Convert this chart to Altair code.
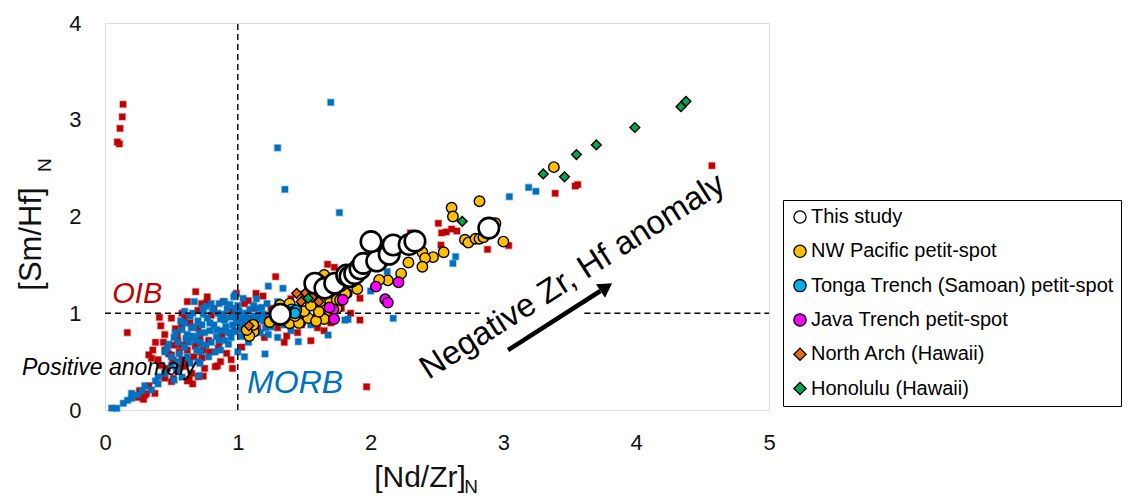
import altair as alt
import pandas as pd

# ---------------- data ----------------
study_x = [1.32, 1.58, 1.656, 1.73, 1.82, 1.845, 1.88, 1.92, 1.945, 2.046, 2.003, 2.14, 2.17, 2.29, 2.334, 2.89]
study_y = [0.99, 1.31, 1.26, 1.31, 1.395, 1.38, 1.41, 1.46, 1.515, 1.54, 1.74, 1.61, 1.705, 1.71, 1.745, 1.88]

nwp_x = [3.38, 2.82, 2.61, 2.62, 2.71, 2.736, 2.79, 2.82, 2.85, 2.94, 3.0, 2.55, 2.39, 2.47, 2.41, 2.39,
         2.285, 2.23, 2.13, 2.065, 1.65, 1.82, 1.69, 1.76, 1.62, 1.39, 1.47, 1.53, 1.61, 1.65, 1.745,
         1.12, 1.087, 1.067, 1.117, 1.318, 1.39, 1.46, 1.59, 1.61, 1.69, 1.66, 1.745, 1.81, 1.24,
         1.5, 1.55, 1.43, 1.78, 1.9, 1.85, 1.7, 1.77]
nwp_y = [2.51, 2.157, 2.09, 2.0, 1.76, 1.73, 1.77, 1.77, 1.785, 1.93, 1.74, 1.63, 1.63, 1.58, 1.57, 1.48,
         1.525, 1.41, 1.34, 1.345, 1.395, 1.205, 1.14, 1.19, 1.12, 0.896, 0.906, 0.95, 0.99, 0.94, 1.05,
         0.81, 0.765, 0.827, 0.88, 1.085, 1.10, 0.90, 0.92, 1.016, 1.03, 1.205, 1.14, 1.205, 0.91,
         1.02, 1.08, 0.97, 1.28, 1.25, 1.32, 1.3, 1.137]

tonga_x = [1.405, 1.42, 1.44, 1.43]
tonga_y = [1.04, 1.016, 1.03, 1.0]

java_x = [2.04, 2.21, 2.11, 2.13, 1.79, 1.72, 1.725, 1.69]
java_y = [1.275, 1.32, 1.145, 1.11, 1.14, 1.04, 0.94, 1.06]

narch_x = [1.084, 1.51, 1.476, 1.56, 1.61, 1.443]
narch_y = [0.87, 1.21, 1.12, 1.165, 1.12, 1.206]

hono_x = [4.375, 4.337, 3.99, 3.70, 3.55, 3.30, 3.46, 2.69, 1.53]
hono_y = [3.19, 3.135, 2.92, 2.74, 2.64, 2.44, 2.41, 1.95, 1.155]

# OIB compilation (red squares), (x, y) pairs
oib_pts = [
    (0.093, 2.77), (0.108, 2.75), (0.113, 2.91), (0.13, 3.03), (0.136, 3.16),
    (0.168, 0.80), (0.41, 0.958), (0.683, 1.223), (0.728, 1.10), (0.766, 1.113), (0.89, 1.12), (0.99, 1.206),
    (1.137, 1.206), (1.19, 1.178), (1.285, 1.378), (1.676, 1.506), (1.727, 1.475), (1.92, 1.155), (1.92, 0.93),
    (1.55, 0.716), (1.368, 0.765), (1.97, 0.24), (0.578, 0.886), (0.547, 0.723), (0.452, 0.62), (0.52, 0.67),
    (0.62, 0.62), (0.715, 0.758), (0.83, 0.448), (0.703, 0.344), (0.62, 0.30), (0.50, 0.293), (0.313, 0.17),
    (0.29, 0.11), (0.376, 0.172), (0.627, 0.517), (0.565, 0.448), (0.74, 0.62), (0.853, 0.638), (0.916, 0.586),
    (0.545, 0.79), (0.653, 0.758), (0.615, 0.706), (0.51, 0.517), (0.653, 0.379), (0.35, 0.534), (0.5, 0.568),
    (0.846, 0.455), (0.635, 0.317), (0.514, 0.327), (0.6, 0.95), (0.7, 0.85), (0.8, 0.98), (0.95, 1.02),
    (1.05, 1.1), (1.1, 0.95), (1.25, 1.05), (1.4, 1.15), (1.5, 1.2), (1.6, 0.85), (0.45, 0.78), (0.38, 0.7),
    (0.42, 0.46), (0.25, 0.13), (0.58, 0.52), (0.68, 0.66), (0.78, 0.72), (0.88, 0.78), (0.47, 0.43),
    (0.56, 0.6), (1.3, 0.85), (1.45, 0.8), (1.2, 0.75), (1.7, 0.9), (1.85, 1.0), (2.3, 1.83), (2.51, 1.93),
    (2.535, 1.83), (2.57, 1.84), (2.61, 1.87), (2.65, 1.85), (2.53, 1.705), (2.88, 1.66), (3.04, 1.70),
    (3.39, 2.24), (3.54, 2.315), (3.56, 2.33), (4.57, 2.525), (0.33, 0.57), (0.3, 0.155), (0.73, 0.54),
    (0.95, 0.52), (0.36, 0.62), (0.4, 0.52), (0.44, 0.7), (0.48, 0.58), (0.53, 0.84), (0.57, 0.67),
    (0.6, 0.45), (0.64, 0.9), (0.67, 0.55), (0.71, 0.69), (0.75, 0.43), (0.79, 0.6), (0.82, 1.05),
    (0.86, 0.7), (0.7, 1.03), (0.58, 1.0), (0.9, 0.95), (0.98, 0.82), (1.03, 0.65), (1.08, 1.13),
    (1.15, 0.85), (1.22, 0.98), (1.35, 0.7), (1.42, 1.0), (1.48, 0.88), (1.58, 1.1), (1.65, 0.82),
    (1.78, 1.05), (0.26, 0.2), (0.33, 0.25), (0.45, 0.33), (0.55, 0.4), (0.66, 0.27), (0.74, 0.35),
    (0.87, 0.5), (0.96, 0.43), (0.42, 0.87), (0.5, 0.95), (0.62, 1.12), (0.77, 1.17), (1.0, 1.02), (1.12, 1.05),
]

# MORB compilation (blue squares), (x, y) pairs
morb_pts = [
    (0.05, 0.02), (0.088, 0.018), (0.138, 0.069), (0.17, 0.1), (0.2, 0.12), (0.2, 0.172), (0.243, 0.155),
    (0.28, 0.2), (0.3, 0.25), (0.35, 0.207), (0.38, 0.3), (0.4, 0.27), (0.45, 0.38), (0.52, 0.31),
    (0.54, 0.413), (0.58, 0.34), (0.64, 0.483), (0.708, 0.355), (0.715, 0.483),
    (0.45, 0.6), (0.5, 0.55), (0.55, 0.7), (0.6, 0.65), (0.62, 0.78), (0.65, 0.85), (0.68, 0.72), (0.7, 0.92),
    (0.72, 0.6), (0.75, 0.8), (0.77, 0.95), (0.8, 0.7), (0.82, 0.88), (0.85, 1.0), (0.87, 0.62), (0.88, 0.82),
    (0.9, 0.93), (0.92, 1.05), (0.95, 0.75), (0.96, 0.88), (0.98, 0.97), (1.0, 1.08), (1.02, 0.83),
    (1.04, 0.92), (1.06, 1.0), (1.08, 0.7), (1.1, 0.88), (1.12, 0.97), (1.15, 1.05), (1.17, 0.8), (1.2, 0.92),
    (1.22, 1.1), (1.25, 0.86), (1.28, 0.98), (1.3, 0.75), (1.33, 1.02), (1.36, 0.9), (1.4, 0.82), (1.45, 1.06),
    (1.5, 0.95), (1.55, 0.88), (1.6, 1.02), (1.65, 0.96), (1.72, 1.08), (0.673, 1.12), (0.979, 1.19),
    (1.23, 1.28), (1.34, 1.258), (0.6, 0.9), (0.58, 0.83), (0.52, 0.75), (0.48, 0.68), (0.66, 1.0),
    (0.74, 1.05), (0.8, 1.1), (0.84, 0.76), (0.93, 0.68), (1.0, 0.6), (1.05, 0.55), (0.78, 0.55), (0.7, 0.5),
    (0.62, 0.55), (0.9, 1.12), (1.14, 1.15), (1.3, 1.12), (1.456, 0.706), (1.205, 0.579), (1.68, 0.775),
    (1.83, 0.937), (2.17, 0.948), (1.807, 0.93), (0.54, 0.413), (0.452, 0.379), (0.4, 0.344),
    (0.47, 0.64), (0.53, 0.8), (0.57, 0.92), (0.61, 0.74), (0.64, 0.97), (0.67, 0.86), (0.71, 0.79),
    (0.74, 0.99), (0.76, 0.67), (0.79, 0.9), (0.81, 1.04), (0.84, 0.83), (0.86, 0.72), (0.89, 0.99),
    (0.91, 0.86), (0.94, 1.09), (0.97, 0.81), (0.99, 0.93), (1.01, 1.02), (1.03, 0.76), (1.07, 0.95),
    (1.09, 1.04), (1.11, 0.82), (1.13, 0.9), (1.16, 0.98), (1.18, 1.06), (1.21, 0.85), (1.24, 0.95),
    (1.27, 0.9), (1.29, 1.05), (1.32, 0.96), (1.35, 0.88), (1.38, 1.03), (1.42, 0.95), (1.47, 0.9),
    (1.52, 1.0), (0.56, 0.58), (0.63, 0.7), (0.69, 0.62), (0.73, 0.88), (0.83, 0.6), (0.87, 0.94),
    (0.93, 0.8), (0.98, 1.05), (1.04, 0.87), (1.09, 0.78), (1.19, 0.99), (1.26, 1.0), (0.6, 1.02),
    (0.66, 0.76), (0.76, 1.07), (0.86, 1.1), (0.95, 0.96), (1.03, 0.98), (1.15, 0.93), (0.5, 0.46),
    (0.55, 0.5), (0.72, 0.7), (0.79, 0.82), (0.9, 0.72), (1.0, 0.9), (1.12, 1.08), (1.23, 0.78),
    (1.35, 0.96), (1.48, 0.98), (1.58, 0.92),
    (1.7, 3.18), (1.3, 2.71), (1.355, 2.28), (1.765, 2.04), (3.045, 2.205), (3.19, 2.30), (3.245, 2.26),
    (2.64, 1.585), (2.62, 1.515), (2.09, 1.73), (2.125, 1.43), (2.0, 1.23), (2.36, 1.72), (0.97, 1.17),
    (1.04, 1.153),
]

series_names = ["This study", "NW Pacific petit-spot", "Tonga Trench (Samoan) petit-spot",
                "Java Trench petit-spot", "North Arch (Hawaii)", "Honolulu (Hawaii)"]
series_fill = ["#FFFFFF", "#FFC000", "#00B0F0", "#FF00FF", "#E46C0A", "#00A650"]
series_shape = ["circle", "circle", "circle", "circle", "diamond", "diamond"]

x_ticks = [0, 1, 2, 3, 4, 5]
y_ticks = [0, 1, 2, 3, 4]

# ---------------- frames ----------------
def frame(xs, ys, name, sz=0, sw=0):
    return pd.DataFrame({"x": xs, "y": ys, "series": name, "sz": sz, "sw": sw})

oib_x, oib_y = zip(*oib_pts)
morb_x, morb_y = zip(*morb_pts)
bg = pd.concat([frame(list(oib_x), list(oib_y), "OIB"), frame(list(morb_x), list(morb_y), "MORB")],
               ignore_index=True)

fg = pd.concat([
    frame(nwp_x, nwp_y, series_names[1], 110, 1.4),
    frame(tonga_x, tonga_y, series_names[2], 110, 1.4),
    frame(java_x, java_y, series_names[3], 110, 1.4),
    frame(narch_x, narch_y, series_names[4], 95, 1.4),
    frame(hono_x, hono_y, series_names[5], 95, 1.4),
    frame(study_x, study_y, series_names[0], 420, 2.6),
], ignore_index=True)

FONT = "Liberation Sans"
xs = alt.Scale(domain=[0, 5], nice=False, zero=False)
ys = alt.Scale(domain=[0, 4], nice=False, zero=False)

X = alt.X("x:Q", scale=xs, axis=alt.Axis(values=x_ticks, title=None, grid=False, ticks=False, domain=False,
                                         labelFontSize=22, labelFont=FONT, labelColor="#111",
                                         labelPadding=22, format="d", labelFlush=False))
Y = alt.Y("y:Q", scale=ys, axis=alt.Axis(values=y_ticks, title=None, grid=False, ticks=False, domain=False,
                                         labelFontSize=22, labelFont=FONT, labelColor="#111",
                                         labelPadding=24, format="d", labelFlush=False))

bg_scale = alt.Scale(domain=["OIB", "MORB"], range=["#C00000", "#0070C0"])
bg_chart = alt.Chart(bg).mark_point(shape="square", filled=True, size=38, strokeWidth=1.6,
                                    strokeOpacity=0.35, fillOpacity=1).encode(
    x=X, y=Y,
    fill=alt.Fill("series:N", scale=bg_scale, legend=None),
    stroke=alt.Stroke("series:N", scale=bg_scale, legend=None),
)

leg = alt.Legend(title=None, orient="none", legendX=678, legendY=177, labelFont=FONT, labelFontSize=20,
                 labelColor="#000", labelLimit=400, symbolSize=150, symbolStrokeColor="#000",
                 symbolStrokeWidth=1.3, strokeColor="#000", padding=7, rowPadding=14.3, labelOffset=1,
                 fillColor="#FFFFFF")

fg_chart = alt.Chart(fg).mark_point(filled=True, stroke="#000", opacity=1).encode(
    x="x:Q", y="y:Q",
    color=alt.Color("series:N", scale=alt.Scale(domain=series_names, range=series_fill), legend=leg,
                    sort=series_names),
    shape=alt.Shape("series:N", scale=alt.Scale(domain=series_names, range=series_shape), legend=leg,
                    sort=series_names),
    size=alt.Size("sz:Q", scale=None, legend=None),
    strokeWidth=alt.StrokeWidth("sw:Q", scale=None, legend=None),
)

# reference lines
vline = alt.Chart(pd.DataFrame({"x": [1], "y": [0], "y2": [4]})).mark_rule(
    color="#000", strokeWidth=1.4, strokeDash=[6, 4]).encode(x="x:Q", y="y:Q", y2="y2:Q")
hline = alt.Chart(pd.DataFrame({"x": [0, 3.61], "x2": [2.82, 5], "y": [1, 1]})).mark_rule(
    color="#000", strokeWidth=1.4, strokeDash=[6, 4]).encode(x="x:Q", x2="x2:Q", y="y:Q")

# arrow
arrow_line = alt.Chart(pd.DataFrame({"x": [3.035], "x2": [3.73], "y": [0.62], "y2": [1.23]})).mark_rule(
    color="#000", strokeWidth=4.5).encode(x="x:Q", x2="x2:Q", y="y:Q", y2="y2:Q")
arrow_head = alt.Chart(pd.DataFrame({"x": [3.775], "y": [1.27]})).mark_point(
    shape="triangle-right", filled=True, color="#000", size=260, angle=326, opacity=1).encode(x="x:Q", y="y:Q")

def label(x, y, t, **kw):
    return alt.Chart(pd.DataFrame({"x": [x], "y": [y], "t": [t]})).mark_text(font=FONT, **kw).encode(
        x="x:Q", y="y:Q", text="t:N")

oib_lbl = label(0.055, 1.106, "OIB", fontSize=29, fontStyle="italic", color="#C00000", align="left",
                baseline="alphabetic")
morb_lbl = label(1.07, 0.176, "MORB", fontSize=32, fontStyle="italic", color="#0070C0", align="left",
                 baseline="alphabetic")
pos_lbl = label(-0.625, 0.36, "Positive anomaly", fontSize=23, fontStyle="italic", color="#000",
                align="left", baseline="alphabetic")
neg_lbl = label(3.52, 1.38, "Negative Zr, Hf anomaly", fontSize=33, color="#000", align="center",
                baseline="middle", angle=327.5)

xt_main = label(2.372, -0.703, "[Nd/Zr]", fontSize=30, color="#111", align="center", baseline="middle")
xt_sub = label(2.756, -0.80, "N", fontSize=19, color="#111", align="center", baseline="middle")
yt_main = label(-0.55, 1.767, "[Sm/Hf]", fontSize=31, color="#111", align="center", baseline="middle",
                angle=270)
yt_sub = label(-0.45, 2.53, "N", fontSize=19, color="#111", align="center", baseline="middle", angle=270)

chart = alt.layer(
    bg_chart, vline, hline, fg_chart, arrow_line, arrow_head,
    oib_lbl, morb_lbl, pos_lbl, neg_lbl, xt_main, xt_sub, yt_main, yt_sub
).properties(
    width=664, height=387,
    autosize=alt.AutoSizeParams(type="none"),
    padding={"left": 97, "top": 15, "right": 353, "bottom": 86},
).configure_view(stroke="#7f7f7f", strokeWidth=1.5).configure(background="#FFFFFF")

chart.save("out.html", embed_options={"renderer": "svg", "actions": False})
